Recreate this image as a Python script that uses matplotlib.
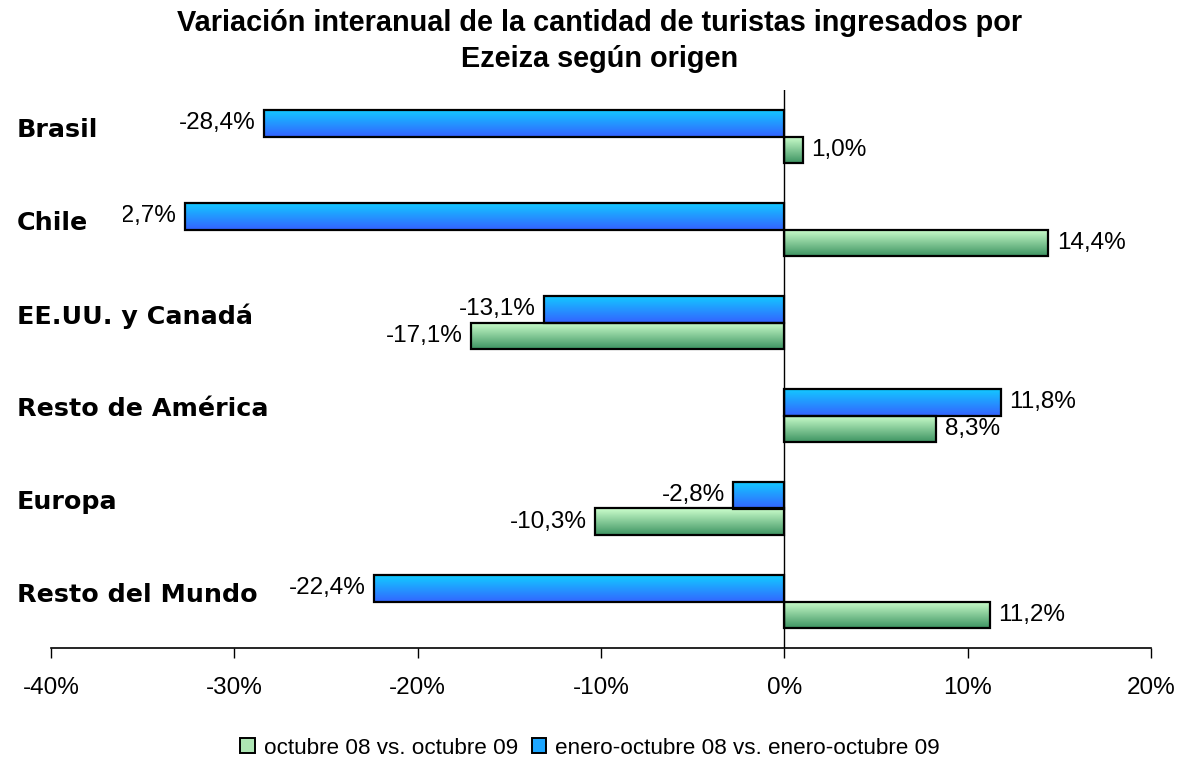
import numpy as np
import matplotlib
matplotlib.use("Agg")
import matplotlib.pyplot as plt
from matplotlib.colors import LinearSegmentedColormap
from matplotlib.transforms import Bbox, TransformedBbox, blended_transform_factory
from matplotlib.patches import Patch

# Datos
categorias = ["Brasil", "Chile", "EE.UU. y Canadá", "Resto de América", "Europa", "Resto del Mundo"]
var_octubre = [1.0, 14.4, -17.1, 8.3, -10.3, 11.2]          # octubre 08 vs. octubre 09
var_ene_oct = [-28.4, -32.7, -13.1, 11.8, -2.8, -22.4]      # enero-octubre 08 vs. enero-octubre 09
ticks_x = [-40, -30, -20, -10, 0, 10, 20]
serie_oct = "octubre 08 vs. octubre 09"
serie_ene = "enero-octubre 08 vs. enero-octubre 09"
titulo = "Variación interanual de la cantidad de turistas ingresados por\nEzeiza según origen"

W, H = 1180, 768
fig = plt.figure(figsize=(W / 100, H / 100), dpi=100)
ax = fig.add_axes([51 / W, 120 / H, 1100 / W, 558 / H])

cmap_azul = LinearSegmentedColormap.from_list("azul", ["#12CCFF", "#3366FF"])
cmap_verde = LinearSegmentedColormap.from_list("verde", ["#CCFFCC", "#3E9463"])

y = np.arange(len(categorias))
alto = 0.28

def barras_gradiente(pos, valores, cmap):
    barras = ax.barh(pos, valores, height=alto, facecolor="none",
                     edgecolor="black", linewidth=1.6, zorder=3)
    grad = np.linspace(0, 1, 64).reshape(-1, 1)
    for b in barras:
        x0, y0 = b.get_x(), b.get_y()
        w, h = b.get_width(), b.get_height()
        im = ax.imshow(grad, cmap=cmap, aspect="auto", zorder=2,
                       extent=[x0, x0 + w, y0 + h, y0], interpolation="bilinear")
        im.set_clip_path(b)
    return barras

barras_gradiente(y - alto / 2, var_ene_oct, cmap_azul)
barras_gradiente(y + alto / 2, var_octubre, cmap_verde)
ax.set_xlim(-40, 20)
ax.set_ylim(len(categorias) - 0.5, -0.5)

ax.axvline(0, color="black", lw=1, zorder=4)

# etiquetas de valor (la de Chile queda tapada a la izquierda, como en el original)
clip = TransformedBbox(Bbox.from_extents(123 / W, 0, 1, 1), fig.transFigure)
def fmt(v):
    return f"{v:.1f}%".replace(".", ",")

for pos, valores in [(y - alto / 2, var_ene_oct), (y + alto / 2, var_octubre)]:
    for p, v in zip(pos, valores):
        off = 6 if v >= 0 else -6
        t = ax.annotate(fmt(v), (v, p), xytext=(off, 0), textcoords="offset points",
                        ha="left" if v >= 0 else "right", va="center",
                        fontsize=17.5, family="Liberation Sans", zorder=5,
                        annotation_clip=False)
        t.set_clip_on(True)
        t.set_clip_box(clip)

# categorias
tr = blended_transform_factory(fig.transFigure, ax.transData)
for i, c in enumerate(categorias):
    ax.text(17 / W, i - 0.07, c, transform=tr, ha="left", va="center",
            fontsize=18.3, fontweight="bold", family="DejaVu Sans")

ax.set_yticks([])
for s in ["left", "right", "top"]:
    ax.spines[s].set_visible(False)
ax.spines["bottom"].set_linewidth(1.2)
ax.set_xticks(ticks_x)
ax.set_xticklabels([f"{t}%" for t in ticks_x], family="Liberation Sans", fontsize=17.5)
ax.tick_params(axis="x", direction="out", length=7, width=1, pad=14)

fig.text(600 / W, 1 - 67 / H, titulo, ha="center", va="baseline", fontsize=20.8,
         fontweight="bold", family="Liberation Sans", linespacing=1.36,
         multialignment="center")

handles = [Patch(facecolor="#AEE6B4", edgecolor="black", lw=1.4),
           Patch(facecolor="#1DA6FF", edgecolor="black", lw=1.4)]
fig.legend(handles, [serie_oct, serie_ene], loc="center", bbox_to_anchor=(0.5, 20 / H),
           ncol=2, frameon=False, prop={"family": "Liberation Sans", "size": 16.2},
           handlelength=0.65, handleheight=0.65, handletextpad=0.4, columnspacing=0.6)

fig.savefig("out.png", dpi=100)
